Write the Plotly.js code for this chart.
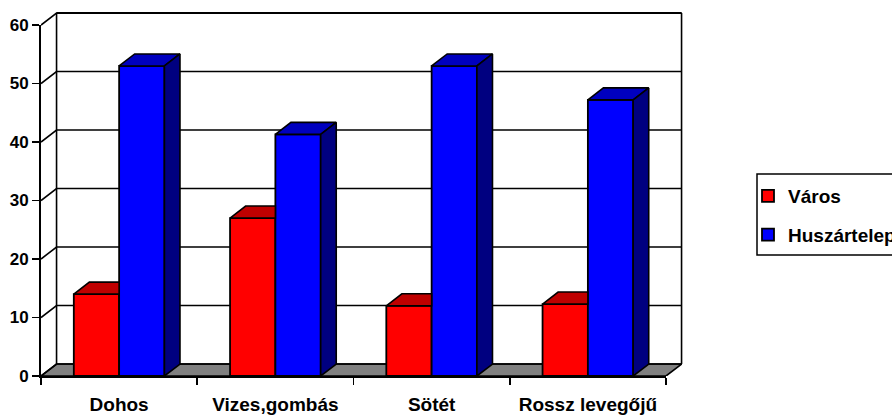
<!DOCTYPE html>
<html><head><meta charset="utf-8">
<script src="https://cdn.plot.ly/plotly-3.0.1.min.js"></script>
<style>html,body{margin:0;padding:0;background:#fff;overflow:hidden;width:892px;height:415px}</style>
</head><body><div id="chart"></div>
<script>
const categories = ['Dohos', 'Vizes,gombás', 'Sötét', 'Rossz levegőjű'];
const varos = [14, 27, 12, 12.3];
const huszartelep = [53, 41.3, 53, 47.2];
const yTicks = [0, 10, 20, 30, 40, 50, 60];
const seriesNames = ['Város', 'Huszártelep'];

const W = 960, H = 415;
const depthX = 0.0995, depthY = 2.05, barW = 0.29;
const xMin = -0.5, xMax = 3.5, yMax = 60;
const pxLeft = 41, pxRight = 666, pxBottom = 376, pxTop = 25, pxOuterRight = 690, pxOuterTop = 5;
const outerXMax = xMin + (pxOuterRight - pxLeft) * (xMax - xMin) / (pxRight - pxLeft);
const outerYMax = (pxBottom - pxOuterTop) * yMax / (pxBottom - pxTop);
const pos = categories.map((_, i) => i);
const fam = '"Liberation Sans", Arial, sans-serif';
const font = {family: fam, size: 17, color: '#000', weight: 700};
const bigFont = {family: fam, size: 19, color: '#000', weight: 700};

function polys(list) {
  const x = [], y = [];
  list.forEach(p => { p.forEach(q => { x.push(q[0]); y.push(q[1]); }); x.push(p[0][0]); y.push(p[0][1]); x.push(null); y.push(null); });
  return {x, y};
}
function face(list, color, xaxis) {
  return Object.assign(polys(list), {type: 'scatter', mode: 'lines', fill: 'toself', fillcolor: color,
    line: {color: '#000', width: 1.6}, showlegend: false, hoverinfo: 'skip', xaxis, yaxis: 'y2'});
}
const traces = [];
// empty trace on the frame axes so their ticks and lines are drawn
traces.push({x: [xMin, xMax], y: [0, 0], type: 'scatter', mode: 'none', showlegend: false, hoverinfo: 'skip', xaxis: 'x', yaxis: 'y'});
// floor
traces.push(face([[[xMin,0],[xMin+depthX,depthY],[xMax+depthX,depthY],[xMax,0]]], '#808080', 'x2'));
// walls and gridlines
const gx = [], gy = [];
yTicks.forEach(t => {
  gx.push(xMin, xMin+depthX, xMax+depthX, null);
  gy.push(t, t+depthY, t+depthY, null);
});
gx.push(xMin+depthX, xMin+depthX, null, xMax+depthX, xMax+depthX);
gy.push(depthY, yMax+depthY, null, depthY, yMax+depthY);
traces.push({x: gx, y: gy, type: 'scatter', mode: 'lines', line: {color: '#000', width: 1.6},
  showlegend: false, hoverinfo: 'skip', xaxis: 'x2', yaxis: 'y2'});
traces.push({x: [xMin+depthX, xMax+depthX], y: [yMax+depthY, yMax+depthY], type: 'scatter', mode: 'lines',
  line: {color: '#000', width: 2.2}, showlegend: false, hoverinfo: 'skip', xaxis: 'x2', yaxis: 'y2'});
// bar fronts
traces.push({type: 'bar', name: seriesNames[0], x: pos, y: varos, xaxis: 'x3', yaxis: 'y2', legendgroup: 'a',
  marker: {color: '#FF0000', line: {color: '#000', width: 1.8}}});
traces.push({type: 'bar', name: seriesNames[1], x: pos, y: huszartelep, xaxis: 'x3', yaxis: 'y2', legendgroup: 'b',
  marker: {color: '#0000FF', line: {color: '#000', width: 1.8}}});
// bar depth faces
traces.push(face(pos.map(i => [[i-barW,varos[i]],[i,varos[i]],[i,varos[i]+depthY],[i-barW+depthX,varos[i]+depthY]]), '#BF0000', 'x3'));
traces.push(face(pos.map(i => [[i,huszartelep[i]],[i+barW,huszartelep[i]],[i+barW+depthX,huszartelep[i]+depthY],[i+depthX,huszartelep[i]+depthY]]), '#0000BF', 'x3'));
traces.push(face(pos.map(i => [[i+barW,0],[i+barW+depthX,depthY],[i+barW+depthX,huszartelep[i]+depthY],[i+barW,huszartelep[i]]]), '#000080', 'x3'));

const hiddenX = {anchor: 'y2', side: 'bottom', domain: [pxLeft/W, pxOuterRight/W], range: [xMin, outerXMax], ticks: '', showticklabels: false,
  showline: false, showgrid: false, zeroline: false};
const layout = {
  width: W, height: H, margin: {l:0, r:0, t:0, b:0, autoexpand: false},
  paper_bgcolor: '#fff', plot_bgcolor: 'rgba(0,0,0,0)', font,
  barmode: 'group', bargap: 0.42, bargroupgap: 0,
  xaxis: {domain: [pxLeft/W, pxRight/W], range: [xMin, xMax], anchor: 'y', tickmode: 'array',
    tickvals: [-0.5, 0.5, 1.5, 2.5, 3.5], ticktext: ['', '', '', '', ''],
    ticks: 'outside', ticklen: 7, tickwidth: 1.6, tickcolor: '#000',
    showline: true, linecolor: '#000', linewidth: 2, showgrid: false, zeroline: false},
  yaxis: {domain: [1-pxBottom/H, 1-pxTop/H], range: [0, yMax], anchor: 'x', tickmode: 'array', tickvals: yTicks,
    ticks: 'outside', ticklen: 7, tickwidth: 1.6, tickcolor: '#000', tickfont: font,
    showline: true, linecolor: '#000', linewidth: 2, showgrid: false, zeroline: false},
  xaxis2: hiddenX,
  yaxis2: {domain: [1-pxBottom/H, 1-pxOuterTop/H], range: [0, outerYMax], anchor: 'x2', visible: false, showgrid: false, zeroline: false},
  xaxis3: Object.assign({}, hiddenX, {overlaying: 'x2', showticklabels: true, tickmode: 'array', tickvals: pos, ticktext: categories,
    ticklabelstandoff: 15, tickfont: bigFont}),
  shapes: [{type: 'rect', xref: 'paper', yref: 'paper', x0: 757/W, x1: 950/W, y0: 1-255/H, y1: 1-174/H,
    line: {color: '#000', width: 1.5}, fillcolor: '#fff', layer: 'below'}],
  legend: {x: 748/W, xanchor: 'left', y: 1-177/H, yanchor: 'top', bgcolor: 'rgba(0,0,0,0)', borderwidth: 0,
    font: bigFont, traceorder: 'grouped', tracegroupgap: 11},
  showlegend: true
};
Plotly.newPlot('chart', traces, layout, {staticPlot: true, displayModeBar: false});
</script></body></html>
